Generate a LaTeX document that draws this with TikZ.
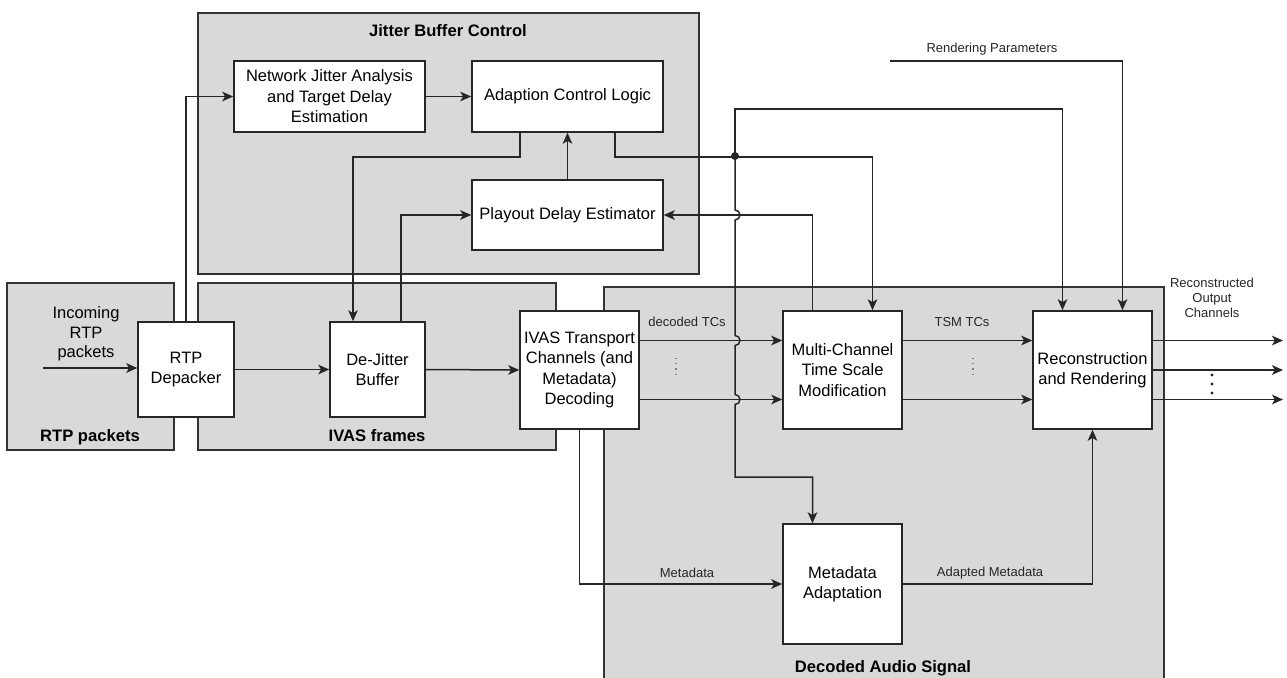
\documentclass[tikz,border=0pt]{standalone}
\usepackage{fontspec}
\setmainfont{Liberation Sans}
\usetikzlibrary{calc, arrows.meta}
\tikzset{
  grp/.style={draw=black!80, fill=black!15, line width=0.75pt},
  blk/.style={draw=black!85, fill=white, line width=0.75pt, align=center, inner sep=0pt, font=\fontsize{8.25}{10.25}\selectfont},
  wire/.style={draw=black!85, line width=0.75pt, -{Stealth[length=5.5pt, width=4.8pt, inset=1.4pt]}},
  lbl/.style={font=\fontsize{6.5}{7.5}\selectfont, text=black!85, align=center, inner sep=0pt},
  ttl/.style={font=\fontsize{8.3}{10}\selectfont\bfseries, inner sep=0pt},
}
\begin{document}
\begin{tikzpicture}[x=0.5pt, y=-0.5pt]
    \useasboundingbox (0,0) rectangle (1287,677);
    \draw[grp] (198,13) rectangle (699,274);
    \draw[grp] (7,283) rectangle (174,450);
    \draw[grp] (198,283) rectangle (556,450);
    \draw[grp] (604,287) rectangle (1164,700);
    \node[ttl] (jbct) at (448,31) {Jitter Buffer Control};
    \node[ttl] (rtpt) at (90,437) {RTP packets};
    \node[ttl] (ivat) at (377,436) {IVAS frames};
    \node[ttl] (dect) at (883,668) {Decoded Audio Signal};

    \node[blk, minimum width=95.5pt, minimum height=35.5pt] (nja) at (329.5,96.5) {Network Jitter Analysis\\and Target Delay\\Estimation};
    \node[blk, minimum width=95.5pt, minimum height=35.5pt] (acl) at (567.5,96.5) {Adaption Control Logic};
    \node[blk, minimum width=95.5pt, minimum height=35pt] (pde) at (567.5,215) {Playout Delay Estimator};
    \node[blk, minimum width=48pt, minimum height=47.5pt] (dep) at (186,369.5) {RTP\\Depacker};
    \node[blk, minimum width=47.5pt, minimum height=47.5pt] (djb) at (377.5,369.5) {De-Jitter\\Buffer};
    \node[blk, minimum width=59.5pt, minimum height=59pt] (ivas) at (579.5,370) {IVAS Transport\\Channels (and\\Metadata)\\Decoding};
    \node[blk, minimum width=59.5pt, minimum height=59pt] (tsm) at (842.5,370) {Multi-Channel\\Time Scale\\Modification};
    \node[blk, minimum width=59.5pt, minimum height=59pt] (rnd) at (1092.5,370) {Reconstruction\\and Rendering};
    \node[blk, minimum width=59.5pt, minimum height=60pt] (mda) at (842.5,584) {Metadata\\Adaptation};
    \node[blk, draw=none, fill=none, font=\fontsize{8.25}{9.75}\selectfont] (inl) at (86,334) {Incoming\\RTP\\packets};

    \coordinate (in) at (43,368);
    \coordinate (rp) at (890,61);
    \coordinate (jn) at (735,156);
    \coordinate (out) at (1283,370);

    \draw[wire] (in) -- (in -| dep.west);
    \draw[wire] (dep.north) |- (nja.west);
    \draw[wire] (dep.east) -- (djb.west);
    \draw[wire] (djb.east) -- (ivas.west);
    \draw[wire] (nja) -- (acl);
    \draw[wire] (pde) -- (acl);
    \draw[wire] ($(acl.south)+(-47.5,0)$) -- ++(0,24) -| ($(djb.north)+(-24.5,0)$);
    \draw[wire] ($(djb.north)+(23.5,0)$) |- (pde.west);
    \draw[wire] ($(acl.south)+(47.5,0)$) -- ++(0,24) -| ($(tsm.north)+(30,0)$);
    \draw[wire] ($(tsm.north)+(-30,0)$) |- (pde.east);
    \fill[black!85] (jn) circle (2pt);
    \draw[wire] (jn) -- (735,109) -| ($(rnd.north)+(-30,0)$);
    \draw[wire] (jn) -- (735,210) arc[start angle=90, end angle=-90, radius=2.5pt]
        -- (735,335.5) arc[start angle=90, end angle=-90, radius=2.5pt]
        -- (735,394.5) arc[start angle=90, end angle=-90, radius=2.5pt]
        -- (735,477) -| ($(mda.north)+(-30,0)$);
    \draw[wire] (rp) -| ($(rnd.north)+(30,0)$);
    \node[lbl] (rpl) at (992,49) {Rendering Parameters};

    \foreach \dy in {-29.5,29.5} {
        \draw[wire] ($(ivas.east)+(0,\dy)$) -- ($(tsm.west)+(0,\dy)$);
        \draw[wire] ($(tsm.east)+(0,\dy)$) -- ($(rnd.west)+(0,\dy)$);
    }
    \foreach \dy in {-29.5,0,29.5}
        \draw[wire] ($(rnd.east)+(0,\dy)$) -- ($(out)+(0,\dy)$);
    \draw[dotted, black!50, line width=0.6pt] (676,358) -- (676,377);
    \draw[dotted, black!50, line width=0.6pt] (973,358) -- (973,377);
    \foreach \yy in {375,384,393}
        \fill[black!85] (1212,\yy) circle (0.8pt);
    \node[lbl] (dtcl) at (687,322) {decoded TCs};
    \node[lbl] (ttcl) at (962,322) {TSM TCs};
    \node[lbl] (outl) at (1212,298) {Reconstructed\\Output\\Channels};

    \draw[wire] (ivas.south) |- (mda.west);
    \draw[wire] (mda.east) -| (rnd.south);
    \node[lbl] (mdl) at (687,573) {Metadata};
    \node[lbl] (amdl) at (990,573) {Adapted Metadata};
\end{tikzpicture}
\end{document}
